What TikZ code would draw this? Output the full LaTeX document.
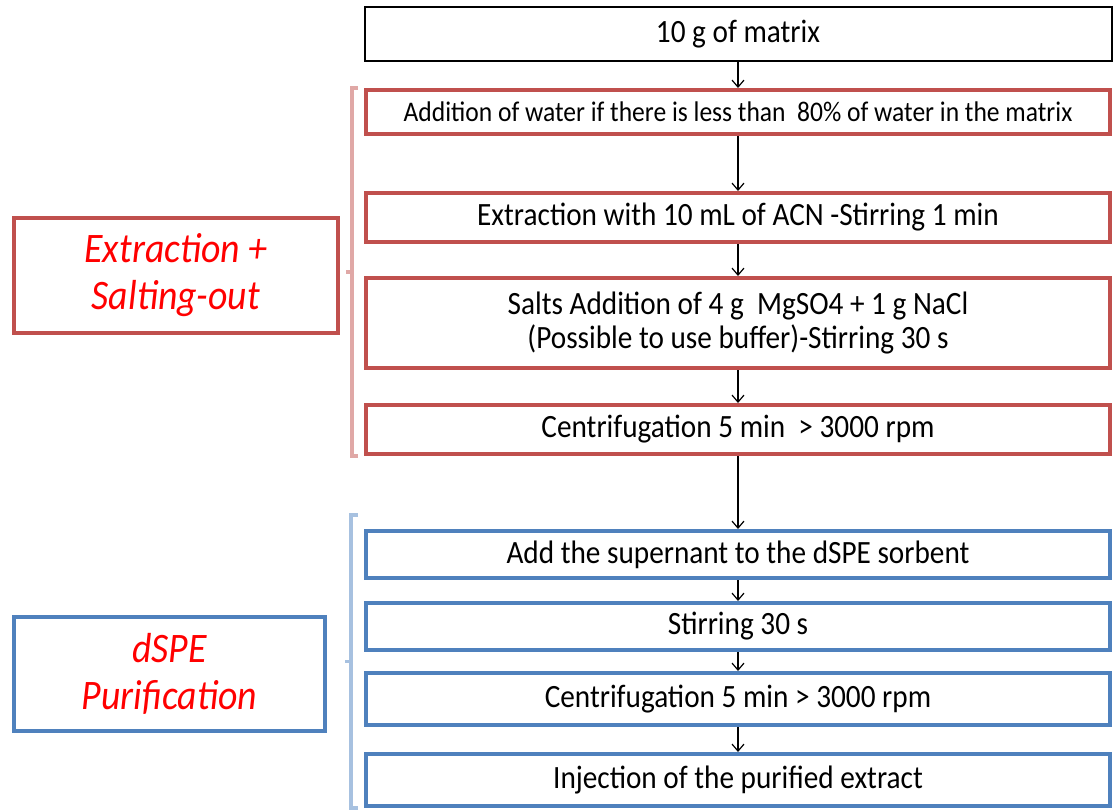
\documentclass[tikz,border=0pt]{standalone}
\usepackage{fontspec}
\setmainfont{Carlito}[FakeStretch=0.9]
\usetikzlibrary{positioning, arrows.meta, calc}
\definecolor{boxred}{HTML}{C0504D}
\definecolor{boxblue}{HTML}{4F81BD}
\definecolor{bracered}{HTML}{E0A8A6}
\definecolor{braceblue}{HTML}{A7C1E0}

\begin{document}
\begin{tikzpicture}[
    x=1pt, y=-1pt,
    font=\fontsize{32.5}{34}\selectfont,
    top/.style={rectangle, draw=black, line width=2pt, minimum width=747pt, minimum height=54pt, align=center, inner sep=2pt},
    rstep/.style={rectangle, draw=boxred, line width=4pt, minimum width=744pt, align=center, inner sep=2pt},
    bstep/.style={rectangle, draw=boxblue, line width=4pt, minimum width=744pt, align=center, inner sep=2pt},
    lbl/.style={rectangle, line width=4pt, font=\fontsize{42}{47}\selectfont\itshape, text=red, align=center},
    ar/.style={-{Straight Barb[length=7pt, width=12pt]}, line width=1.2pt},
    brc/.style={line width=3.5pt}
]
\useasboundingbox (0,0) rectangle (1115,810);

\node[top] (matrix) at (738,34) {10 g of matrix};

\node[rstep, minimum height=44pt, below=26pt of matrix, font=\fontsize{28.4}{30}\selectfont] (water) {Addition of water if there is less than\ \ 80\% of water in the matrix};
\node[rstep, minimum height=49pt, below=55pt of water] (acn) {Extraction with 10 mL of ACN -Stirring 1 min};
\node[rstep, minimum height=90pt, below=32pt of acn] (salts) {Salts Addition of 4 g\ \ MgSO4 + 1 g NaCl\\ (Possible to use buffer)-Stirring 30 s};
\node[rstep, minimum height=49pt, below=33pt of salts] (centri) {Centrifugation 5 min\ \ > 3000 rpm};

\node[bstep, minimum height=47pt, below=73pt of centri] (super) {Add the supernant to the dSPE sorbent};
\node[bstep, minimum height=47pt, below=21pt of super] (stir) {Stirring 30 s};
\node[bstep, minimum height=52pt, below=19pt of stir] (centrib) {Centrifugation 5 min > 3000 rpm};
\node[bstep, minimum height=52pt, below=25pt of centrib] (inject) {Injection of the purified extract};

\node[lbl, draw=boxred, minimum width=324pt, minimum height=115pt] (extr) at (176,275.5) {Extraction +\\ Salting-out};
\node[lbl, draw=boxblue, minimum width=311pt, minimum height=114pt] (dspe) at (169.5,674) {dSPE\\ Purification};

\draw[ar] (matrix) -- (water);
\draw[ar] (water) -- (acn);
\draw[ar] (acn) -- (salts);
\draw[ar] (salts) -- (centri);
\draw[ar] (centri) -- (super);
\draw[ar] (super) -- (stir);
\draw[ar] (stir) -- (centrib);
\draw[ar] (centrib) -- (inject);

% brackets
\draw[brc, bracered] ([xshift=-6pt]water.north west) -- ++(-6pt,0) |- ([xshift=-6pt]centri.south west);
\draw[brc, bracered] ($(water.north west)!0.5!(centri.south west)+(-12pt,0)$) -- ++(-6pt,0);
\draw[brc, braceblue] ([shift={(-6pt,14pt)}]super.north west) -- ++(-7pt,0) |- ([xshift=-6pt]inject.south west);
\draw[brc, braceblue] ($([yshift=14pt]super.north west)!0.5!(inject.south west)+(-13pt,0)$) -- ++(-6pt,0);
\end{tikzpicture}
\end{document}
